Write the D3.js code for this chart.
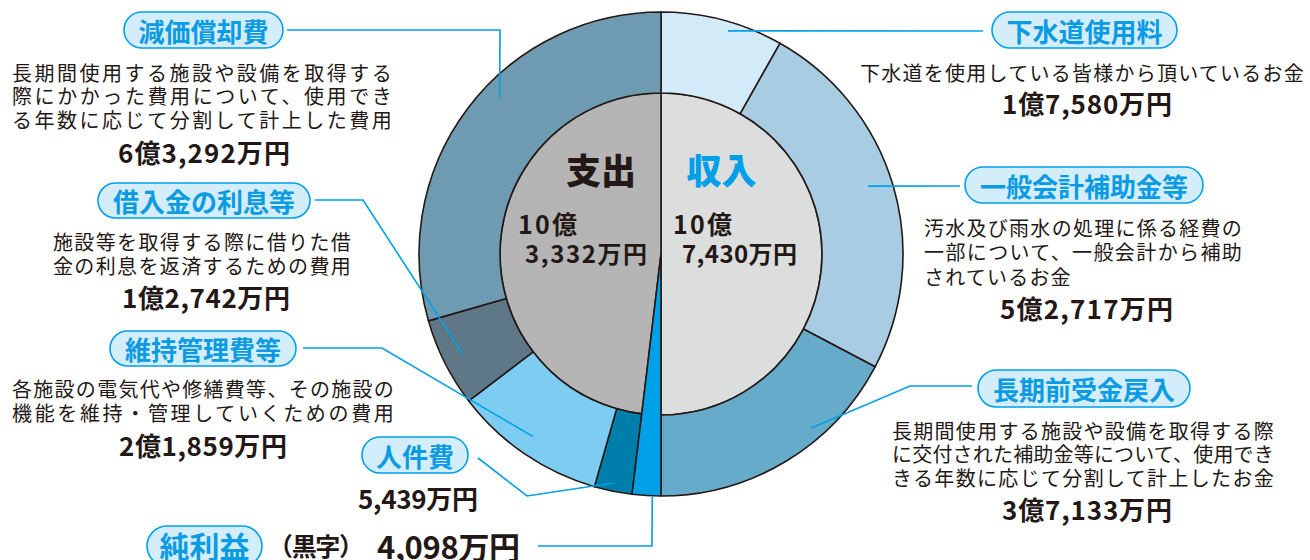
<!DOCTYPE html>
<html lang="ja">
<head>
  <meta charset="UTF-8">
  <title>下水道事業 収入と支出</title>
  <style>
    body { margin: 0; background: #fff; }
    svg { display: block; font-family: "Noto Sans CJK JP", "Noto Sans", sans-serif; }
    .seg { stroke: #231815; stroke-width: 1.6px; stroke-linejoin: round; }
    .leader { fill: none; stroke: #00a0e9; stroke-width: 1.6px; }
    .pill rect { fill: #d4edfb; stroke: #00a0e9; stroke-width: 1.6px; }
    .pill text { fill: #0b9be3; font-weight: 700; }
    .desc { fill: #231815; font-size: 20px; letter-spacing: 1.2px; }
    .val { fill: #231815; font-size: 26px; font-weight: 700; }
  </style>
</head>
<body>
  <script src="https://cdn.jsdelivr.net/npm/d3@7"></script>
  <script>
    // データ（単位：万円）
    const revenueNames = ['下水道使用料', '一般会計補助金等', '長期前受金戻入'];
    const revenueValues = [17580, 52717, 37133];
    const expenseNames = ['人件費', '維持管理費等', '借入金の利息等', '減価償却費'];
    const expenseValues = [5439, 21859, 12742, 63292];
    const profitName = '純利益';
    const profitValue = 4098;
    const descriptions = {
      '下水道使用料': ['下水道を使用している皆様から頂いているお金'],
      '一般会計補助金等': ['汚水及び雨水の処理に係る経費の', '一部について、一般会計から補助', 'されているお金'],
      '長期前受金戻入': ['長期間使用する施設や設備を取得する際', 'に交付された補助金等について、使用でき', 'きる年数に応じて分割して計上したお金'],
      '減価償却費': ['長期間使用する施設や設備を取得する', '際にかかった費用について、使用でき', 'る年数に応じて分割して計上した費用'],
      '借入金の利息等': ['施設等を取得する際に借りた借', '金の利息を返済するための費用'],
      '維持管理費等': ['各施設の電気代や修繕費等、その施設の', '機能を維持・管理していくための費用']
    };

    const colors = {
      '下水道使用料': '#d3ebf8', '一般会計補助金等': '#a8cde2', '長期前受金戻入': '#67abcb',
      '純利益': '#00a0e9', '人件費': '#007eab', '維持管理費等': '#7dcdf3',
      '借入金の利息等': '#5f7887', '減価償却費': '#6f9bb2',
      '収入': '#dcdddd', '支出': '#b5b5b6'
    };

    // レイアウト
    const width = 1310, height = 560;
    const cx = 661, cy = 254, rIn = 161, rOut = 242;
    const layout = {
      '下水道使用料': { pill: [992, 12, 185, 36], t: 0.567, r: 233, path: [[983, 31]],
        desc: [860, 445, [72]], val: [1087, 102.5, 170] },
      '一般会計補助金等': { pill: [965, 167, 238, 36], t: 0.48, r: 218, path: [[960, 186]],
        desc: [924, 319, [227, 251.5, 276]], val: [1086.5, 307.5, 173] },
      '長期前受金戻入': { pill: [978, 370, 212, 37], t: 0.344, r: 230, path: [[910, 386], [972, 386]],
        desc: [892, 383, [430, 453.5, 477]], val: [1087, 508, 170] },
      '純利益': { pill: [147, 526, 115, 40], t: 0.3, r: 243, path: [[652, 546], [538, 546]], fs: 30 },
      '人件費': { pill: [362, 437, 106, 36], t: 0.54, r: 234, path: [[527, 496], [478, 458]],
        val: [418, 497, 120] },
      '維持管理費等': { pill: [110, 331, 186, 35], t: 0.52, r: 223, path: [[382, 348], [303, 348]],
        desc: [12, 383, [388, 412]], val: [203, 444, 168] },
      '借入金の利息等': { pill: [98, 183, 212, 35], t: 0.5, r: 222, path: [[363, 200], [315, 200]],
        desc: [53, 299, [241, 265.5]], val: [206, 296, 168] },
      '減価償却費': { pill: [124, 12, 159, 36], t: 0.568, r: 225, path: [[500, 30], [287, 30]],
        desc: [12, 381, [72, 95.5, 119]], val: [204, 151, 172] }
    };

    const fmt = d3.format(',');
    const oku = v => Math.floor(v / 10000) > 0 ? Math.floor(v / 10000) + '億' : '';
    const man = v => fmt(v % 10000) + '万円';

    const svg = d3.select('body').append('svg').attr('width', width).attr('height', height);
    const g = svg.append('g').attr('transform', `translate(${cx},${cy})`);

    const outerData = [
      ...revenueNames.map((n, i) => ({ name: n, value: revenueValues[i] })),
      { name: profitName, value: profitValue },
      ...expenseNames.map((n, i) => ({ name: n, value: expenseValues[i] }))
    ];
    const revenueTotal = d3.sum(revenueValues), expenseTotal = d3.sum(expenseValues);
    const innerData = [
      { name: '収入', value: revenueTotal },
      { name: profitName, value: profitValue },
      { name: '支出', value: expenseTotal }
    ];

    const pie = d3.pie().sort(null).value(d => d.value).startAngle(0).endAngle(2 * Math.PI);
    const outerArcs = pie(outerData);
    const innerArcs = pie(innerData);

    const arcInner = d3.arc().innerRadius(0).outerRadius(rIn);
    const arcRing = d3.arc().innerRadius(rIn).outerRadius(rOut);
    const arcFull = d3.arc().innerRadius(0).outerRadius(rOut);

    g.selectAll('path.inner').data(innerArcs.filter(d => d.data.name !== profitName))
      .enter().append('path')
      .attr('class', 'seg inner')
      .attr('fill', d => colors[d.data.name])
      .attr('d', arcInner);

    g.selectAll('path.ring').data(outerArcs.filter(d => d.data.name !== profitName))
      .enter().append('path')
      .attr('class', 'seg ring')
      .attr('fill', d => colors[d.data.name])
      .attr('d', arcRing);

    g.selectAll('path.profit').data(outerArcs.filter(d => d.data.name === profitName))
      .enter().append('path')
      .attr('class', 'seg profit')
      .attr('fill', colors[profitName])
      .attr('d', arcFull);

    // 引き出し線
    function anchor(d) {
      const L = layout[d.data.name];
      const a = d.startAngle + L.t * (d.endAngle - d.startAngle);
      return [cx + Math.sin(a) * L.r, cy - Math.cos(a) * L.r];
    }
    svg.selectAll('path.leader').data(outerArcs)
      .enter().append('path')
      .attr('class', 'leader')
      .attr('d', d => d3.line()([anchor(d), ...layout[d.data.name].path]));

    // ラベル（枠）
    const pills = svg.selectAll('g.pill').data(outerData).enter().append('g').attr('class', 'pill');
    pills.append('rect')
      .attr('x', d => layout[d.name].pill[0]).attr('y', d => layout[d.name].pill[1])
      .attr('width', d => layout[d.name].pill[2]).attr('height', d => layout[d.name].pill[3])
      .attr('rx', d => layout[d.name].pill[3] / 2);
    pills.append('text')
      .attr('x', d => layout[d.name].pill[0] + layout[d.name].pill[2] / 2)
      .attr('y', d => layout[d.name].pill[1] + (d.name === profitName ? 19 : layout[d.name].pill[3] / 2))
      .attr('text-anchor', 'middle')
      .attr('dominant-baseline', 'central')
      .style('font-size', d => (layout[d.name].fs || 26) + 'px')
      .text(d => d.name);

    // 説明文
    outerData.filter(d => descriptions[d.name]).forEach(d => {
      const [x, w, ys] = layout[d.name].desc;
      descriptions[d.name].forEach((line, i) => {
        const t = svg.append('text').attr('class', 'desc')
          .attr('x', x).attr('y', ys[i]).attr('dominant-baseline', 'central').text(line);
        if (t.node().getComputedTextLength() > w * 0.9) {
          t.attr('textLength', w).attr('lengthAdjust', 'spacing');
        }
      });
    });

    // 金額
    outerData.filter(d => layout[d.name].val).forEach(d => {
      const [x, y, w] = layout[d.name].val;
      svg.append('text').attr('class', 'val')
        .attr('x', x - w / 2).attr('y', y).attr('dominant-baseline', 'central')
        .attr('textLength', w).attr('lengthAdjust', 'spacing')
        .text(oku(d.value) + man(d.value));
    });

    // 純利益の行
    svg.append('text').attr('class', 'val')
      .attr('x', 268).attr('y', 545).attr('dominant-baseline', 'central')
      .attr('textLength', 96).attr('lengthAdjust', 'spacing')
      .style('font-size', '25px').style('font-weight', 700)
      .text('（黒字）');
    svg.append('text').attr('class', 'val')
      .attr('x', 377).attr('y', 545).attr('dominant-baseline', 'central')
      .attr('textLength', 143).attr('lengthAdjust', 'spacing')
      .style('font-size', '31px')
      .text(man(profitValue));

    // 中央の見出し
    svg.append('text').attr('x', 601).attr('y', 168)
      .attr('text-anchor', 'middle').attr('dominant-baseline', 'central')
      .style('font-size', '35px').style('font-weight', 900).attr('fill', '#231815')
      .text('支出');
    svg.append('text').attr('x', 721.5).attr('y', 168)
      .attr('text-anchor', 'middle').attr('dominant-baseline', 'central')
      .style('font-size', '35px').style('font-weight', 900).attr('fill', '#00a0e9')
      .text('収入');

    const centerTotals = [
      { v: expenseTotal, x1: 518, w1: 59, x2: 525, w2: 122 },
      { v: revenueTotal, x1: 673, w1: 59, x2: 682, w2: 115 }
    ];
    centerTotals.forEach(c => {
      svg.append('text').attr('class', 'val').style('font-size', '25px')
        .attr('x', c.x1).attr('y', 223).attr('dominant-baseline', 'central')
        .attr('textLength', c.w1).attr('lengthAdjust', 'spacing')
        .text(oku(c.v));
      svg.append('text').attr('class', 'val').style('font-size', '24px')
        .attr('x', c.x2).attr('y', 252.5).attr('dominant-baseline', 'central')
        .attr('textLength', c.w2).attr('lengthAdjust', 'spacing')
        .text(man(c.v));
    });
  </script>
</body>
</html>
